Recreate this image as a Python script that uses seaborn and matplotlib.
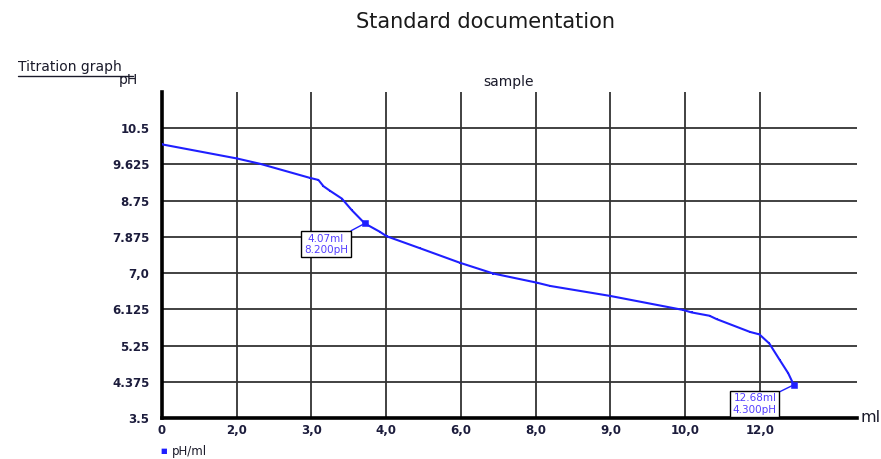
import matplotlib
matplotlib.use("Agg")
import matplotlib.pyplot as plt
import matplotlib.lines as mlines
import pandas as pd
import seaborn as sns

# titration curve
volume_ml = [0.0, 1.5, 1.97, 2.97, 3.14, 3.24, 3.37, 3.61, 3.81, 4.07, 4.37, 4.51,
             5.18, 5.98, 6.65, 7.52, 7.79, 8.99, 10.46, 10.63, 10.99, 11.13, 11.80,
             11.99, 12.19, 12.40, 12.57, 12.68]
ph_value = [10.11, 9.77, 9.64, 9.30, 9.25, 9.10, 8.99, 8.80, 8.52, 8.20, 8.00, 7.89,
            7.60, 7.25, 6.99, 6.77, 6.69, 6.45, 6.11, 6.05, 5.97, 5.89, 5.58,
            5.52, 5.30, 4.90, 4.58, 4.30]

# marked points with their labels
mark_ml = [4.07, 12.68]
mark_ph = [8.20, 4.30]
mark_text = ["4.07ml\n8.200pH", "12.68ml\n4.300pH"]
mark_box_at = [(3.29, 7.70), (11.90, 3.84)]

x_ticks = [0, 1.5, 3.0, 4.5, 6.0, 7.5, 9.0, 10.5, 12.0]
x_labels = ["0", "2,0", "3,0", "4,0", "6,0", "8,0", "9,0", "10,0", "12,0"]
y_ticks = [3.5, 4.375, 5.25, 6.125, 7.0, 7.875, 8.75, 9.625, 10.5]
y_labels = ["3.5", "4.375", "5.25", "6.125", "7,0", "7.875", "8.75", "9.625", "10.5"]

df = pd.DataFrame({"ml": volume_ml, "pH": ph_value})
marks = pd.DataFrame({"ml": mark_ml, "pH": mark_ph})

sns.set_style("white")
plt.rcParams["font.family"] = ["DejaVu Sans"]

blue = "#1f1fff"
label_col = "#5540ff"
tick_col = "#1c1c3c"

fig = plt.figure(figsize=(8.81, 4.59), dpi=100)
ax = fig.add_axes([162 / 881, 1 - 418 / 459, (857 - 162) / 881, (418 - 92) / 459])

sns.lineplot(data=df, x="ml", y="pH", ax=ax, color=blue, lw=1.5, marker="s",
             markersize=1.8, markeredgewidth=0, sort=False, zorder=3)
sns.scatterplot(data=marks, x="ml", y="pH", ax=ax, color=blue, marker="s", s=24,
                edgecolor=blue, zorder=4)

for (mx, my), txt, box in zip(zip(mark_ml, mark_ph), mark_text, mark_box_at):
    ax.annotate(txt, xy=(mx, my), xytext=box, ha="center", va="center",
                fontsize=7.5, color=label_col, linespacing=1.15,
                bbox=dict(boxstyle="square,pad=0.25", fc="white", ec="black", lw=1),
                arrowprops=dict(arrowstyle="-", color=blue, lw=1,
                                shrinkA=0, shrinkB=0), zorder=5)

ax.set_xlim(0, 13.95)
ax.set_ylim(3.5, 11.375)
ax.set_xticks(x_ticks)
ax.set_xticklabels(x_labels)
ax.set_yticks(y_ticks)
ax.set_yticklabels(y_labels)
ax.tick_params(axis="both", labelsize=8.5, colors=tick_col, length=0, pad=4)
ax.tick_params(axis="y", length=5, width=1.2, color="#222222", direction="out")
for lab in ax.get_xticklabels() + ax.get_yticklabels():
    lab.set_fontweight("bold")
ax.grid(True, color="#333333", lw=1.3)
ax.set_xlabel("")
ax.set_ylabel("")
for side in ["top", "right"]:
    ax.spines[side].set_visible(False)
for side in ["left", "bottom"]:
    ax.spines[side].set_linewidth(2.6)
    ax.spines[side].set_color("black")
ax.set_axisbelow(True)

fig.text(485 / 881, 1 - 22 / 459, "Standard documentation", ha="center", va="center",
         fontsize=15, color="#1a1a1a")
fig.text(18 / 881, 1 - 67 / 459, "Titration graph", ha="left", va="center",
         fontsize=10, color="#1a1a2a")
fig.add_artist(mlines.Line2D([18 / 881, 133 / 881], [1 - 76 / 459, 1 - 76 / 459],
                             color="#1a1a2a", lw=1))
fig.text(128 / 881, 1 - 80 / 459, "pH", ha="center", va="center", fontsize=10,
         color="#1a1a2a")
fig.text(509 / 881, 1 - 82 / 459, "sample", ha="center", va="center", fontsize=10,
         color="#1a1a2a")
fig.text(860 / 881, 1 - 417 / 459, "ml", ha="left", va="center", fontsize=11.5,
         color="#1a1a2a")
fig.text(160 / 881, 1 - 451 / 459, "■", ha="left", va="center", fontsize=5, color=blue)
fig.text(172 / 881, 1 - 452 / 459, "pH/ml", ha="left", va="center", fontsize=8.5,
         color="#1a1a2a")

fig.savefig("out.png", dpi=100)
